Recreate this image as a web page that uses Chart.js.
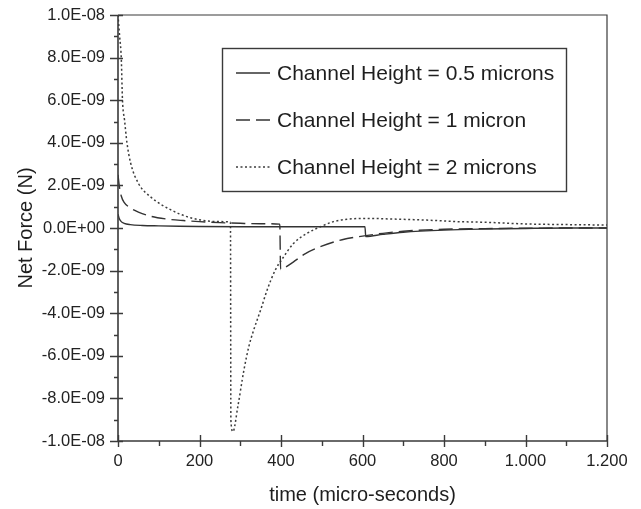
<!DOCTYPE html>
<html>
<head>
<meta charset="utf-8">
<script src="https://cdn.jsdelivr.net/npm/chart.js@4/dist/chart.umd.min.js"></script>
<style>
  html, body { margin: 0; padding: 0; background: #fff; }
  #wrap { width: 641px; height: 509px; }
</style>
</head>
<body>
<div id="wrap"><canvas id="forceChart" width="641" height="509"></canvas></div>
<script>
    // time in micro-seconds, net force in units of 1E-09 N
    var seriesLabels = ['Channel Height = 0.5 microns', 'Channel Height = 1 micron', 'Channel Height = 2 microns'];

    var timeH05 = [0, 3, 8, 15, 30, 60, 100, 150, 200, 300, 400, 500, 606, 608, 650, 700, 800, 900, 1000, 1100, 1200];
    var forceH05 = [0.65, 0.45, 0.3, 0.22, 0.16, 0.12, 0.1, 0.08, 0.07, 0.06, 0.06, 0.06, 0.06, -0.4, -0.3, -0.2, -0.1, -0.05, -0.02, 0, 0];

    var timeH1 = [0, 3, 8, 15, 30, 50, 80, 120, 160, 200, 250, 300, 350, 397, 399, 410, 430, 460, 500, 550, 600, 650, 700, 800, 900, 1000, 1100, 1200];
    var forceH1 = [2.5, 2.0, 1.5, 1.2, 0.95, 0.75, 0.55, 0.42, 0.35, 0.3, 0.25, 0.22, 0.2, 0.18, -1.95, -1.85, -1.6, -1.2, -0.85, -0.55, -0.38, -0.25, -0.15, -0.06, -0.03, -0.01, 0, 0];

    var timeH2 = [0, 4, 8, 11, 16, 22, 31, 50, 80, 130, 180, 250, 276, 277, 282, 294, 309, 321, 333, 350, 366, 386, 403, 431, 464, 497, 529, 562, 611, 676, 758, 832, 900, 1000, 1100, 1200];
    var forceH2 = [10, 9, 8, 6, 5.07, 4, 3.05, 2.1, 1.46, 0.85, 0.47, 0.3, 0.28, -9.0, -9.56, -8.39, -6.67, -5.57, -4.79, -3.85, -2.91, -1.97, -1.45, -0.72, -0.25, 0.06, 0.3, 0.41, 0.45, 0.42, 0.37, 0.3, 0.27, 0.19, 0.16, 0.14];

    var xTickLabels = ['0', '200', '400', '600', '800', '1.000', '1.200'];
    var yTickLabels = ['-1.0E-08', '-8.0E-09', '-6.0E-09', '-4.0E-09', '-2.0E-09', '0.0E+00', '2.0E-09', '4.0E-09', '6.0E-09', '8.0E-09', '1.0E-08'];

    var fontFamily = '"Liberation Sans", Arial, sans-serif';
    var axisColor = '#3a3a3a';

    function toPoints(xs, ys) {
        return xs.map((x, i) => ({ x: x, y: ys[i] }));
    }

    // ticks crossing the axes, plus minor ticks, plus the frame
    var framePlugin = {
        id: 'frame',
        afterDraw(chart) {
            var c = chart.ctx, a = chart.chartArea;
            var xs = chart.scales.x, ys = chart.scales.y;
            c.save();
            c.strokeStyle = axisColor;
            c.lineWidth = 1.2;
            c.beginPath();
            c.moveTo(a.left, a.top); c.lineTo(a.right, a.top); c.lineTo(a.right, a.bottom);
            c.stroke();
            c.lineWidth = 1.6;
            c.beginPath();
            c.moveTo(a.left, a.top); c.lineTo(a.left, a.bottom); c.lineTo(a.right, a.bottom);
            c.stroke();
            c.lineWidth = 1.4;
            c.beginPath();
            for (var v = -10; v <= 10; v++) {
                var py = Math.round(ys.getPixelForValue(v)) + 0.5;
                if (v % 2 === 0) { c.moveTo(a.left - 8, py); c.lineTo(a.left + 5, py); }
                else { c.moveTo(a.left - 4, py); c.lineTo(a.left, py); }
            }
            for (var t = 0; t <= 1200; t += 100) {
                var px = Math.round(xs.getPixelForValue(t)) + 0.5;
                if (t % 200 === 0) { c.moveTo(px, a.bottom - 6); c.lineTo(px, a.bottom + 6); }
                else { c.moveTo(px, a.bottom); c.lineTo(px, a.bottom + 5); }
            }
            c.stroke();
            c.restore();
        }
    };

    // legend box drawn inside the plot, styles taken from the datasets
    var legendBoxPlugin = {
        id: 'legendBox',
        afterDraw(chart) {
            var c = chart.ctx;
            c.save();
            c.strokeStyle = axisColor;
            c.lineWidth = 1.4;
            c.strokeRect(222.5, 48.5, 344, 143);
            c.font = '21px ' + fontFamily;
            c.fillStyle = '#1e1e1e';
            c.textBaseline = 'middle';
            chart.data.datasets.forEach((ds, i) => {
                var y = 73 + i * 47;
                c.strokeStyle = ds.borderColor;
                c.lineWidth = ds.borderWidth;
                c.setLineDash(ds.borderDash || []);
                c.beginPath();
                c.moveTo(236, y); c.lineTo(270, y);
                c.stroke();
                c.setLineDash([]);
                c.fillText(ds.label, 277, y + 1);
            });
            c.restore();
        }
    };

    var ctx = document.getElementById('forceChart').getContext('2d');

    var forceChart = new Chart(ctx, {
        type: 'line',
        data: {
            datasets: [{
                label: seriesLabels[0],
                data: toPoints(timeH05, forceH05),
                borderColor: '#333333',
                borderWidth: 1.4
            }, {
                label: seriesLabels[1],
                data: toPoints(timeH1, forceH1),
                borderColor: '#333333',
                borderWidth: 1.4,
                borderDash: [14, 6]
            }, {
                label: seriesLabels[2],
                data: toPoints(timeH2, forceH2),
                borderColor: '#3c3c3c',
                borderWidth: 1.5,
                borderDash: [2, 2.5]
            }]
        },
        options: {
            responsive: false,
            animation: false,
            elements: {
                point: { radius: 0 },
                line: { cubicInterpolationMode: 'monotone', fill: false }
            },
            layout: { padding: { left: 0, top: 15, right: 34, bottom: 0 } },
            scales: {
                x: {
                    type: 'linear',
                    min: 0,
                    max: 1200,
                    afterFit: scale => { scale.height = 68; },
                    afterBuildTicks: scale => { scale.ticks = xTickLabels.map((l, i) => ({ value: i * 200 })); },
                    ticks: {
                        padding: 11,
                        color: '#222',
                        font: { family: fontFamily, size: 16.5 },
                        maxRotation: 0,
                        callback: (v, i) => xTickLabels[i]
                    },
                    grid: { display: false, drawTicks: false },
                    border: { display: false },
                    title: {
                        display: true,
                        text: 'time (micro-seconds)',
                        color: '#1e1e1e',
                        font: { family: fontFamily, size: 20 },
                        padding: { top: 0, bottom: 2 }
                    }
                },
                y: {
                    min: -10,
                    max: 10,
                    afterFit: scale => { scale.width = 118; scale.paddingTop = 0; scale.paddingBottom = 0; },
                    afterBuildTicks: scale => { scale.ticks = yTickLabels.map((l, i) => ({ value: -10 + i * 2 })); },
                    ticks: {
                        padding: 13,
                        color: '#222',
                        font: { family: fontFamily, size: 16.5 },
                        callback: (v, i) => yTickLabels[i]
                    },
                    grid: { display: false, drawTicks: false },
                    border: { display: false },
                    title: {
                        display: true,
                        text: 'Net Force (N)',
                        color: '#1e1e1e',
                        font: { family: fontFamily, size: 20 },
                        padding: { top: 14, bottom: 0 }
                    }
                }
            },
            plugins: {
                legend: { display: false },
                tooltip: { enabled: false }
            }
        },
        plugins: [framePlugin, legendBoxPlugin]
    });
</script>
</body>
</html>
